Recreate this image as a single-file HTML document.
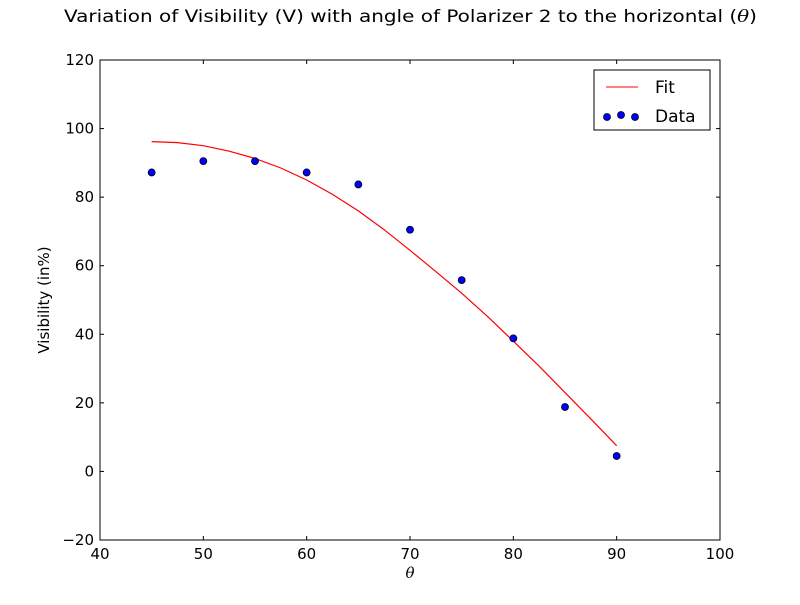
<!DOCTYPE html>
<html><head><meta charset="utf-8"><style>
body{margin:0;background:#fff}
svg{font-family:"DejaVu Sans","Liberation Sans",sans-serif}
</style></head><body>
<svg width="800" height="600" id="c">
<rect width="800" height="600" fill="#fff"/>
<text x="64" y="22" font-size="17" textLength="693" lengthAdjust="spacingAndGlyphs">Variation of Visibility (V) with angle of Polarizer 2 to the horizontal (<tspan font-family="DejaVu Serif" font-style="italic">θ</tspan>)</text>
<g id="plot"></g>
<text x="410" y="578" font-size="15" text-anchor="middle" font-family="DejaVu Serif" font-style="italic">θ</text>
<text transform="translate(49,300) rotate(-90)" font-size="15" text-anchor="middle">Visibility (in%)</text>
<g>
<rect x="594" y="70" width="116" height="60" fill="#fff" stroke="#000"/>
<line x1="606" y1="87" x2="638" y2="87" stroke="red"/>
<text x="655" y="93" font-size="17">Fit</text>
<circle cx="607" cy="117" r="3.5" fill="#0000ff" stroke="#000" stroke-width="0.8"/>
<circle cx="621" cy="115" r="3.5" fill="#0000ff" stroke="#000" stroke-width="0.8"/>
<circle cx="635" cy="117" r="3.5" fill="#0000ff" stroke="#000" stroke-width="0.8"/>
<text x="655" y="122" font-size="17">Data</text>
</g>
</svg>
<script>
const dataX=[45,50,55,60,65,70,75,80,85,90];
const dataY=[87.2,90.5,90.5,87.2,83.7,70.5,55.8,38.8,18.8,4.5];
const fitX=[45,47.5,50,52.5,55,57.5,60,62.5,65,67.5,70,72.5,75,77.5,80,82.5,85,87.5,90];
const fitY=[96.2,95.9,95,93.4,91.3,88.5,85,80.8,76,70.5,64.5,58.3,52,45.2,38,30.7,23,15.3,7.5];
const xTicks=[40,50,60,70,80,90,100];
const yTicks=[-20,0,20,40,60,80,100,120];
const L=100,R=720,T=60,B=540,x0=40,x1=100,y0=-20,y1=120;
const sx=v=>L+(v-x0)/(x1-x0)*(R-L);
const sy=v=>B-(v-y0)/(y1-y0)*(B-T);
const NS="http://www.w3.org/2000/svg";
const g=document.getElementById('plot');
function mk(t,a){const e=document.createElementNS(NS,t);for(const k in a)e.setAttribute(k,a[k]);g.appendChild(e);return e;}
const fr=mk('rect',{x:L,y:T,width:R-L,height:B-T,fill:'none',stroke:'#000'});


xTicks.forEach(v=>{const x=sx(v);
 const t1=mk('line',{x1:x,y1:B,x2:x,y2:B-4,stroke:'#000'});
 
 
 const t2=mk('line',{x1:x,y1:T,x2:x,y2:T+4,stroke:'#000'});
 
 
 const tx=mk('text',{x:x,y:B+19,'font-size':15,'text-anchor':'middle'});tx.textContent=v;
 
 });
yTicks.forEach(v=>{const y=sy(v);
 const t1=mk('line',{x1:L,y1:y,x2:L+4,y2:y,stroke:'#000'});
 
 
 const t2=mk('line',{x1:R,y1:y,x2:R-4,y2:y,stroke:'#000'});
 
 
 const tx=mk('text',{x:L-6,y:y+5,'font-size':15,'text-anchor':'end'});tx.textContent=v<0?'\u2212'+(-v):v;
 
 });
const pl=mk('polyline',{points:fitX.map((v,i)=>sx(v)+','+sy(fitY[i])).join(' '),fill:'none',stroke:'red','stroke-width':1.2});


dataX.forEach((v,i)=>{const c=mk('circle',{cx:sx(v),cy:sy(dataY[i]),r:3.5,fill:'#0000ff',stroke:'#000','stroke-width':0.8});
 
 });
</script>
</body></html>
